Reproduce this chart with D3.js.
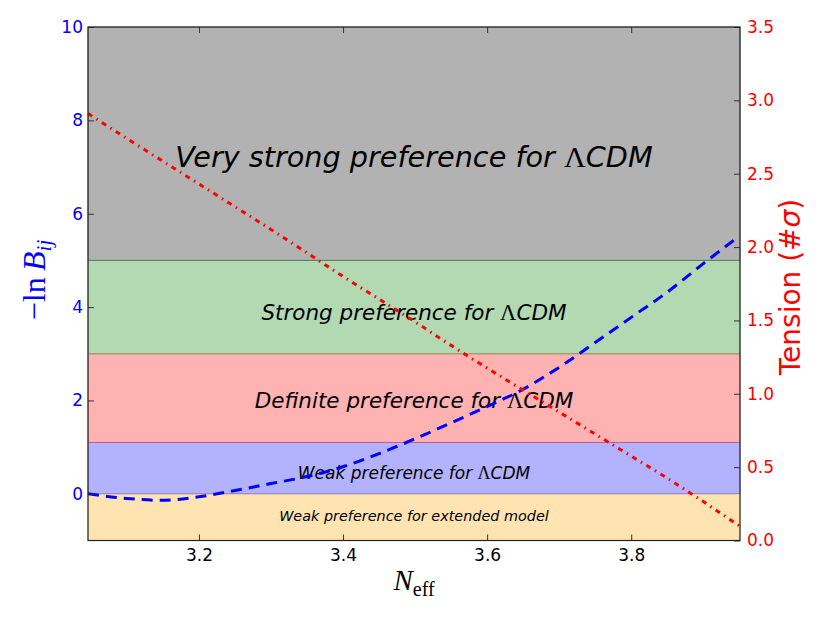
<!DOCTYPE html>
<html>
<head>
<meta charset="utf-8">
<script src="https://d3js.org/d3.v7.min.js"></script>
<style>
  body { margin: 0; background: #fff; }
  text { font-family: "DejaVu Sans", sans-serif; }
</style>
</head>
<body>
<div id="chart"></div>
<script>
// N_eff grid and the two curves
var neff = [3.046, 3.1, 3.15, 3.2, 3.25, 3.3, 3.35, 3.4, 3.45, 3.5,
            3.55, 3.6, 3.65, 3.7, 3.75, 3.8, 3.85, 3.9, 3.95];
var lnB = [0, -0.10, -0.14, -0.065, 0.07, 0.22, 0.37, 0.58, 0.86, 1.18,
           1.52, 1.87, 2.24, 2.71, 3.24, 3.78, 4.32, 4.93, 5.52];
var tension = [2.91, 2.74, 2.585, 2.43, 2.275, 2.12, 1.96, 1.80, 1.645, 1.49,
               1.33, 1.175, 1.025, 0.875, 0.725, 0.575, 0.425, 0.265, 0.10];

// Jeffreys-scale bands
var bandLow = [-1, 0, 1.1, 3, 5];
var bandHigh = [0, 1.1, 3, 5, 10];
var bandColors = ["orange", "blue", "red", "green", "black"];
var bandLabels = ["Weak preference for extended model", "Weak preference for ",
                  "Definite preference for ", "Strong preference for ",
                  "Very strong preference for "];

var xTicks = [3.2, 3.4, 3.6, 3.8];
var yLeftTicks = [0, 2, 4, 6, 8, 10];
var yRightTicks = [0, 0.5, 1, 1.5, 2, 2.5, 3, 3.5];

var W = 830, H = 623;
var pLeft = 88, pRight = 740, pTop = 27, pBottom = 540.5;

var svg = d3.select("#chart").append("svg")
    .attr("width", W).attr("height", H);

var x = d3.scaleLinear().domain([3.046, 3.951]).range([pLeft, pRight]);
var yL = d3.scaleLinear().domain([-1, 10]).range([pBottom, pTop]);
var yR = d3.scaleLinear().domain([0, 3.5]).range([pBottom, pTop]);

// bands, matplotlib style: colour at alpha 0.3, edge in the same colour
svg.selectAll("rect.band")
    .data(bandLow)
    .enter().append("rect")
    .attr("class", "band")
    .attr("x", pLeft)
    .attr("width", pRight - pLeft)
    .attr("y", function (d, i) { return yL(bandHigh[i]); })
    .attr("height", function (d, i) { return yL(d) - yL(bandHigh[i]); })
    .attr("fill", function (d, i) { return bandColors[i]; })
    .attr("fill-opacity", 0.3)
    .attr("stroke", function (d, i) { return bandColors[i]; })
    .attr("stroke-opacity", 0.3)
    .attr("stroke-width", 1);

// band labels (baselines in data units)
var labelY = [-0.59, 0.32, 1.84, 3.72, 7.0];
var labelSize = [14.4, 17, 21.5, 21.5, 28.7];
var cx = (pLeft + pRight) / 2;
bandLabels.forEach(function (t, i) {
    var txt = svg.append("text")
        .attr("x", cx)
        .attr("y", yL(labelY[i]))
        .attr("text-anchor", "middle")
        .style("font-size", labelSize[i] + "px")
        .style("font-style", "italic")
        .attr("fill", "#000");
    txt.append("tspan").text(t);
    if (i > 0) {
        txt.append("tspan")
            .style("font-family", "'Liberation Serif', serif")
            .style("font-style", "normal")
            .style("font-size", (labelSize[i] * 1.05) + "px")
            .text("\u039B");
        txt.append("tspan").text("CDM");
    }
});

// curves
var lineL = d3.line()
    .x(function (d, i) { return x(neff[i]); })
    .y(function (d) { return yL(d); })
    .curve(d3.curveMonotoneX);
var lineR = d3.line()
    .x(function (d, i) { return x(neff[i]); })
    .y(function (d) { return yR(d); })
    .curve(d3.curveMonotoneX);

svg.append("path")
    .attr("d", lineL(lnB))
    .attr("fill", "none")
    .attr("stroke", "blue")
    .attr("stroke-width", 3)
    .attr("stroke-dasharray", "11,7");

svg.append("path")
    .attr("d", lineR(tension))
    .attr("fill", "none")
    .attr("stroke", "red")
    .attr("stroke-width", 3)
    .attr("stroke-dasharray", "5,5,1.5,5");

// axes, ticks pointing inward
function styleAxis(g, color) {
    g.select(".domain").remove();
    g.selectAll(".tick line").attr("stroke", "#333").attr("stroke-width", 1);
    g.selectAll(".tick text")
        .attr("fill", color)
        .style("font-family", "'DejaVu Sans', sans-serif")
        .style("font-size", "17px");
}

svg.append("g")
    .attr("transform", "translate(0," + pBottom + ")")
    .call(d3.axisBottom(x).tickValues(xTicks).tickFormat(d3.format(".1f"))
        .tickSizeInner(-6).tickSizeOuter(0).tickPadding(8))
    .call(styleAxis, "#000");

svg.append("g")
    .attr("transform", "translate(0," + pTop + ")")
    .call(d3.axisTop(x).tickValues(xTicks).tickFormat("")
        .tickSizeInner(-6).tickSizeOuter(0))
    .call(styleAxis, "#000");

svg.append("g")
    .attr("transform", "translate(" + pLeft + ",0)")
    .call(d3.axisLeft(yL).tickValues(yLeftTicks).tickFormat(d3.format("d"))
        .tickSizeInner(-6).tickSizeOuter(0).tickPadding(5))
    .call(styleAxis, "blue");

svg.append("g")
    .attr("transform", "translate(" + pRight + ",0)")
    .call(d3.axisRight(yR).tickValues(yRightTicks).tickFormat(d3.format(".1f"))
        .tickSizeInner(-6).tickSizeOuter(0).tickPadding(7))
    .call(styleAxis, "red");

// frame
svg.append("rect")
    .attr("x", pLeft).attr("y", pTop)
    .attr("width", pRight - pLeft).attr("height", pBottom - pTop)
    .attr("fill", "none")
    .attr("stroke", "#222")
    .attr("stroke-width", 1.2);

// axis titles
var xl = svg.append("text")
    .attr("x", cx).attr("y", 590)
    .attr("text-anchor", "middle")
    .style("font-family", "'Liberation Serif', serif")
    .style("font-size", "29px");
xl.append("tspan").style("font-style", "italic").text("N");
xl.append("tspan").attr("dy", 6).style("font-size", "20px").text("eff");

var yl = svg.append("text")
    .attr("transform", "translate(45,280) rotate(-90)")
    .attr("text-anchor", "middle")
    .attr("fill", "blue")
    .style("font-family", "'Liberation Serif', serif")
    .style("font-size", "32px");
yl.append("tspan").text("\u2212ln\u2009");
yl.append("tspan").style("font-style", "italic").text("B");
yl.append("tspan").attr("dy", 6).style("font-style", "italic")
    .style("font-size", "21px").text("ij");

var yr = svg.append("text")
    .attr("transform", "translate(800,287) rotate(-90)")
    .attr("text-anchor", "middle")
    .attr("fill", "red")
    .style("font-size", "28px");
yr.append("tspan").text("Tension (#");
yr.append("tspan").style("font-style", "italic").text("\u03C3");
yr.append("tspan").text(")");
</script>
</body>
</html>
